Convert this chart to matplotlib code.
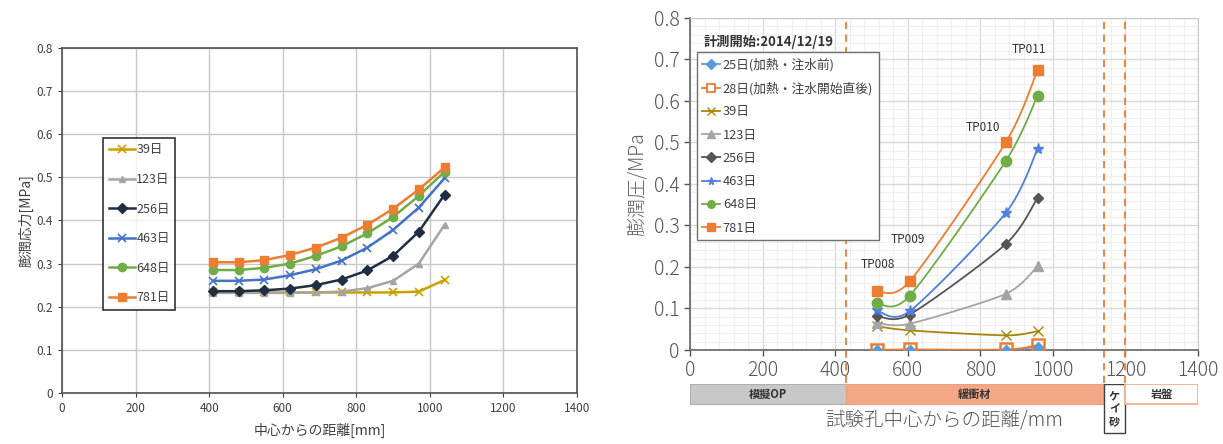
import numpy as np
import matplotlib.pyplot as plt
from matplotlib.patches import Rectangle
from matplotlib.ticker import MultipleLocator

plt.rcParams['font.family'] = ['Noto Sans CJK JP', 'DejaVu Sans']

# left chart data
left_x = [410, 480, 550, 620, 690, 760, 830, 900, 970, 1040]
left_labels = ['39日', '123日', '256日', '463日', '648日', '781日']
left_y = [
    [0.233, 0.233, 0.233, 0.233, 0.233, 0.233, 0.233, 0.233, 0.235, 0.262],
    [0.232, 0.232, 0.232, 0.232, 0.233, 0.235, 0.243, 0.260, 0.300, 0.390],
    [0.236, 0.236, 0.238, 0.242, 0.250, 0.263, 0.284, 0.318, 0.374, 0.460],
    [0.260, 0.260, 0.263, 0.273, 0.287, 0.307, 0.337, 0.378, 0.430, 0.498],
    [0.285, 0.285, 0.290, 0.300, 0.318, 0.340, 0.370, 0.408, 0.457, 0.513],
    [0.303, 0.303, 0.308, 0.320, 0.337, 0.360, 0.390, 0.427, 0.472, 0.523],
]
left_colors = ['#C9A000', '#A5A5A5', '#1F2D45', '#4472C4', '#70AD47', '#ED7D31']
left_markers = ['x', '^', 'D', 'x', 'o', 's']

# right chart data
right_x = [515, 605, 870, 958]
right_labels = ['25日(加熱・注水前)', '28日(加熱・注水開始直後)', '39日', '123日',
                '256日', '463日', '648日', '781日']
right_y = [
    [0.000, 0.000, 0.000, 0.008],
    [0.000, 0.001, 0.001, 0.011],
    [0.057, 0.047, 0.035, 0.045],
    [0.065, 0.063, 0.135, 0.202],
    [0.082, 0.085, 0.255, 0.367],
    [0.095, 0.093, 0.330, 0.485],
    [0.112, 0.130, 0.455, 0.613],
    [0.142, 0.165, 0.500, 0.675],
]
right_colors = ['#5B9BD5', '#ED7D31', '#A8860C', '#A5A5A5', '#555555', '#4F7FE0', '#70AD47', '#ED7D31']
right_markers = ['D', 's', 'x', '^', 'D', '*', 'o', 's']
tp_names = ['TP008', 'TP009', 'TP010', 'TP011']
tp_pos = [(518, 0.205), (601, 0.266), (807, 0.536), (934, 0.725)]
boundaries = [430, 1140, 1200]


def smooth(xs, ys, n=30, tension=0.8):
    # Cardinal curve through the points (like Excel smoothed lines)
    p = np.column_stack([xs, ys]).astype(float)
    p = np.vstack([p[0], p, p[-1]])
    out = []
    for i in range(1, len(p) - 2):
        t = np.linspace(0, 1, n)[:, None]
        p0, p1, p2, p3 = p[i - 1], p[i], p[i + 1], p[i + 2]
        m1 = tension * 0.5 * (p2 - p0)
        m2 = tension * 0.5 * (p3 - p1)
        h00 = 2 * t ** 3 - 3 * t ** 2 + 1
        h10 = t ** 3 - 2 * t ** 2 + t
        h01 = -2 * t ** 3 + 3 * t ** 2
        h11 = t ** 3 - t ** 2
        out.append(h00 * p1 + h10 * m1 + h01 * p2 + h11 * m2)
    out = np.vstack(out)
    return out[:, 0], out[:, 1]


fig = plt.figure(figsize=(12.23, 4.44), dpi=100)

# ---------- left chart ----------
ax1 = fig.add_axes([0.0507, 0.115, 0.4211, 0.777])
for ys, lab, c, m in zip(left_y, left_labels, left_colors, left_markers):
    ms = 6 if m in ('x', 'o', 's') else 5
    ax1.plot(left_x, ys, color=c, marker=m, markersize=ms, linewidth=1.8, label=lab,
             markeredgewidth=1.2 if m == 'x' else 1)
ax1.set_xlim(0, 1400)
ax1.set_ylim(0, 0.8)
ax1.set_xticks(range(0, 1401, 200))
ax1.set_yticks(np.arange(0, 0.81, 0.1))
ax1.set_yticklabels(['0'] + ['%.1f' % v for v in np.arange(0.1, 0.81, 0.1)])
ax1.tick_params(labelsize=8.5, colors='#404040', length=3)
ax1.grid(color='#C8C8C8', linewidth=1)
ax1.set_axisbelow(True)
for s in ax1.spines.values():
    s.set_color('#505050')
    s.set_linewidth(1.2)
ax1.set_xlabel('中心からの距離[mm]', fontsize=10, color='#404040', labelpad=6)
ax1.set_ylabel('膨潤応力[MPa]', fontsize=10, color='#404040', labelpad=2)
leg1 = ax1.legend(loc='upper left', bbox_to_anchor=(0.08, 0.74), fontsize=9,
                  frameon=True, fancybox=False, edgecolor='black', labelspacing=1.33,
                  handlelength=2.1, handletextpad=0.1, borderpad=0.45, borderaxespad=0)
leg1.get_frame().set_linewidth(1.2)
for t in leg1.get_texts():
    t.set_color('#404040')

# ---------- right chart ----------
ax2 = fig.add_axes([0.5642, 0.212, 0.4154, 0.7475])
for ys, lab, c, m in zip(right_y, right_labels, right_colors, right_markers):
    sx, sy = smooth(right_x, ys)
    ax2.plot(sx, sy, color=c, linewidth=1.3, zorder=3)
    face = 'none' if lab.startswith('28') else c
    ms = {'D': 5.5, 's': 7, 'x': 7, '^': 6.5, '*': 8, 'o': 7.5}[m]
    if face == 'none':
        ms = 8
    ax2.plot(right_x, ys, linestyle='none', marker=m, markersize=ms, color=c,
             markerfacecolor=face, markeredgewidth=1.8 if face == 'none' else 1.0,
             zorder=4 if face == 'none' else 5)
    ax2.plot([], [], color=c, marker=m, markersize=5.5, markerfacecolor='white' if face == 'none' else c,
             markeredgewidth=1.3 if face == 'none' else 1.0, linewidth=1.3, label=lab)
ax2.set_xlim(0, 1400)
ax2.set_ylim(0, 0.8)
ax2.set_xticks(range(0, 1401, 200))
ax2.set_yticks(np.arange(0, 0.81, 0.1))
ax2.set_yticklabels(['0'] + ['%.1f' % v for v in np.arange(0.1, 0.81, 0.1)])
ax2.xaxis.set_minor_locator(MultipleLocator(40))
ax2.yaxis.set_minor_locator(MultipleLocator(0.02))
ax2.grid(which='major', color='#DADADA', linewidth=1)
ax2.grid(which='minor', color='#EFEFEF', linewidth=0.8)
ax2.set_axisbelow(True)
ax2.tick_params(which='minor', length=0)
ax2.tick_params(which='major', labelsize=14, colors='#555555', length=4, width=1)
for lbl in ax2.get_xticklabels() + ax2.get_yticklabels():
    lbl.set_fontweight('light')
for side in ('top', 'right'):
    ax2.spines[side].set_color('#C8C8C8')
for side in ('left', 'bottom'):
    ax2.spines[side].set_color('#707070')
    ax2.spines[side].set_linewidth(1.3)
ax2.set_ylabel('膨潤圧/MPa', fontsize=14, color='#606060', labelpad=4, fontweight='light')
for b in boundaries:
    ax2.axvline(b, ymin=-0.1, ymax=1, color='#ED7D31', linestyle=(0, (4, 3)),
                linewidth=1.3, clip_on=False, zorder=2)
for name, (tx, ty) in zip(tp_names, tp_pos):
    ax2.text(tx, ty, name, fontsize=8.5, ha='center', va='center', color='#333333')
leg2 = ax2.legend(loc='upper left', bbox_to_anchor=(0.013, 0.897), fontsize=9.2,
                  frameon=True, fancybox=False, edgecolor='#707070', labelspacing=0.8,
                  handlelength=1.4, handletextpad=0.2, borderpad=0.45,
                  borderaxespad=0, framealpha=1)
for t in leg2.get_texts():
    t.set_color('#404040')
ax2.text(0.027, 0.927, '計測開始:2014/12/19', transform=ax2.transAxes, fontsize=9.5,
         fontweight='bold', color='#333333', va='center')

# ---------- band under right chart ----------
ax3 = fig.add_axes([0.5642, 0.018, 0.4154, 0.117])
ax3.set_xlim(0, 1400)
ax3.set_ylim(0, 1)
ax3.axis('off')
ax3.add_patch(Rectangle((0, 0.615), boundaries[0], 0.385, facecolor='#C8C8C8',
                        edgecolor='#B0B0B0', linewidth=0.8))
ax3.add_patch(Rectangle((boundaries[0], 0.615), boundaries[1] - boundaries[0], 0.385,
                        facecolor='#F4A888', edgecolor='#F0A080', linewidth=0.8))
ax3.add_patch(Rectangle((boundaries[1], 0.06), boundaries[2] - boundaries[1], 0.94,
                        facecolor='white', edgecolor='#404040', linewidth=1))
ax3.add_patch(Rectangle((boundaries[2], 0.615), 1400 - boundaries[2], 0.385,
                        facecolor='white', edgecolor='#F4A888', linewidth=1.2))
ax3.text(boundaries[0] / 2, 0.8, '模擬OP', ha='center', va='center', fontsize=8,
         color='#333333', fontweight='bold')
ax3.text((boundaries[0] + boundaries[1]) / 2, 0.8, '緩衝材', ha='center', va='center',
         fontsize=8, color='#333333', fontweight='bold')
ax3.text((boundaries[2] + 1400) / 2, 0.8, '岩盤', ha='center', va='center', fontsize=8,
         color='#333333', fontweight='bold')
ax3.text((boundaries[1] + boundaries[2]) / 2, 0.53, 'ケ\nイ\n砂', ha='center', va='center',
         fontsize=8, color='#333333', linespacing=1.0, fontweight='bold')
ax3.text(700, 0.28, '試験孔中心からの距離/mm', ha='center', va='center', fontsize=14,
         color='#555555', fontweight='light')

fig.savefig('out.png', dpi=100)
